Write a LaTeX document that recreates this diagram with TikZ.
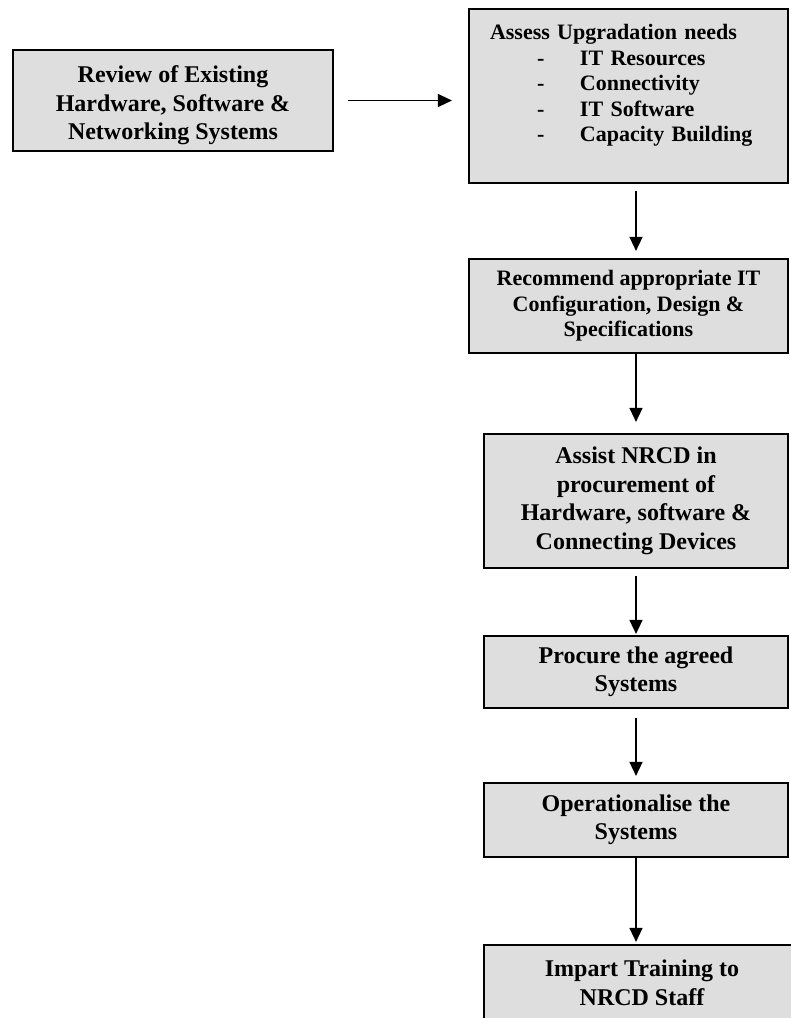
\documentclass[tikz,border=0pt]{standalone}
\usepackage{fontspec}
\setmainfont{Liberation Serif}
\usetikzlibrary{arrows.meta}

\def\bigfont{\fontsize{24}{28.5}\selectfont\bfseries}
\def\smallfont{\fontsize{22}{25.5}\selectfont\bfseries}
\newcommand\needitem[1]{\makebox[90pt][l]{\hspace*{47pt}-}#1}

\begin{document}
\begin{tikzpicture}[x=1pt,y=-1pt,>={Triangle[length=14pt,width=13pt]}]
    \tikzstyle{box}=[draw=black,fill=black!13,line width=2.2pt,inner sep=0pt,align=center,font=\bigfont]
    \tikzstyle{wide box}=[box,minimum width=319pt]
    \tikzstyle{narrow box}=[box,minimum width=304pt]
    \tikzstyle{flow}=[->,line width=1.5pt]

    \useasboundingbox (0,0) rectangle (791,1018);

    % The review box and the needs it leads to
    \node[box,minimum width=320pt,minimum height=101pt] (review) at (173,100.5)
        {\rule{0pt}{27pt}Review of Existing\\Hardware, Software \&\\Networking Systems};
    \node[wide box,minimum height=174pt,text width=277pt,align=left,font=\smallfont] (assess) at (628.5,96)
        {Assess Upgradation needs\\\needitem{IT Resources}\\\needitem{Connectivity}\\
         \needitem{IT Software}\\\needitem{Capacity Building}\\\mbox{}};

    % The chain of steps down the right side
    \node[wide box,minimum height=94pt,font=\smallfont] (recommend) at (628.5,306)
        {Recommend appropriate IT\\Configuration, Design \&\\Specifications};
    \node[narrow box,minimum height=134pt] (assist) at (636,501)
        {Assist NRCD in\\procurement of\\Hardware, software \&\\Connecting Devices};
    \node[narrow box,minimum height=72pt] (procure) at (636,672)
        {Procure the agreed\\Systems};
    \node[narrow box,minimum height=74pt] (operate) at (636,820)
        {Operationalise the\\Systems};
    \node[box,minimum width=316pt,minimum height=76pt] (train) at (642,983)
        {Impart Training to\\NRCD Staff};

    % Connect the steps
    \draw[flow,shorten <=14pt,shorten >=16pt] (review.east) -- (review.east -| assess.west);
    \draw[flow,shorten <=7pt,shorten >=7pt] (assess.south -| assist) -- (recommend.north -| assist);
    \draw[flow,shorten >=11pt] (recommend.south -| assist) -- (assist.north);
    \draw[flow,shorten <=7pt,shorten >=1pt] (assist) -- (procure);
    \draw[flow,shorten <=9pt,shorten >=6pt] (procure) -- (operate);
    \draw[flow,shorten >=2pt] (operate.south) -- (operate.south |- train.north);
\end{tikzpicture}
\end{document}
